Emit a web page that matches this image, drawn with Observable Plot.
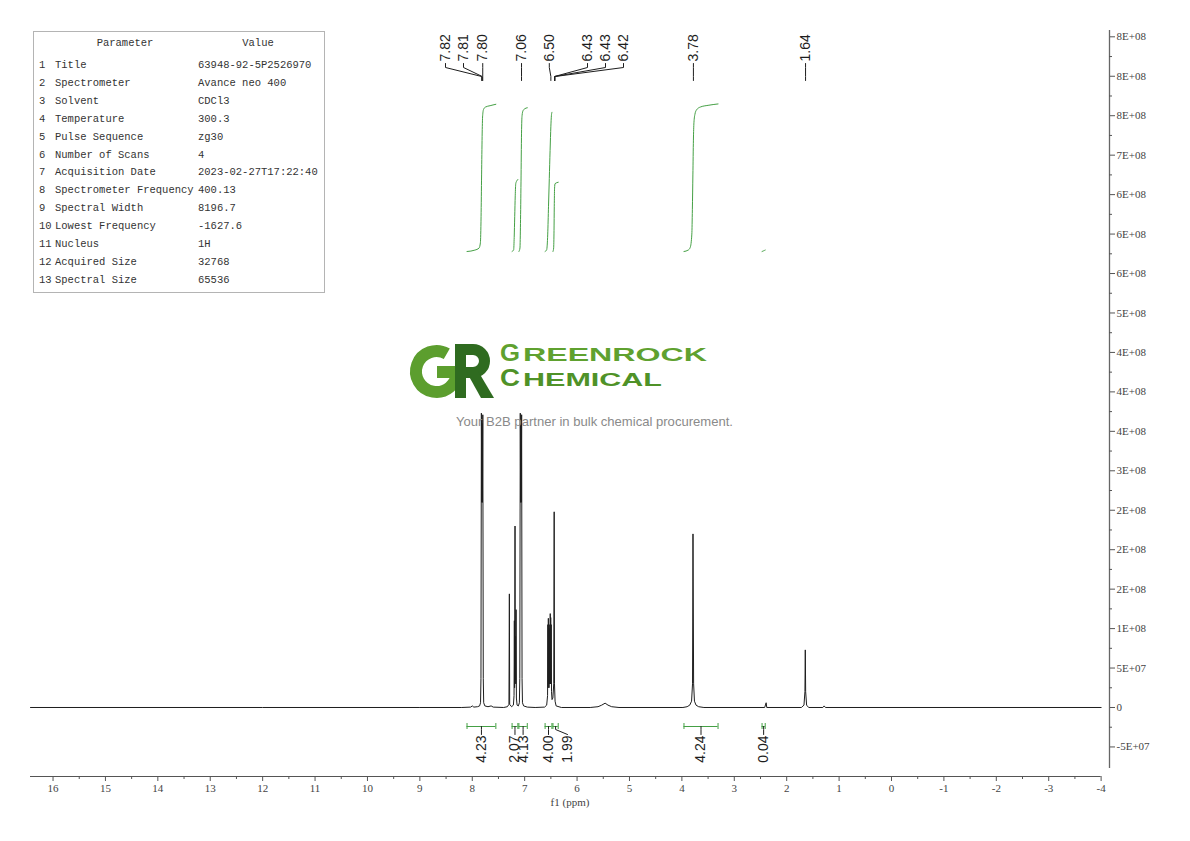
<!DOCTYPE html>
<html><head><meta charset="utf-8">
<script src="https://cdn.jsdelivr.net/npm/d3@7"></script>
<script src="https://cdn.jsdelivr.net/npm/@observablehq/plot@0.6"></script>
<style>
html,body{margin:0;padding:0;background:#fff;overflow:hidden}
#wrap{position:relative;width:1190px;height:841px}
#wrap > svg{position:absolute;left:0;top:0}
.tbl{position:absolute;left:33px;top:31px;width:290px;height:260px;border:1px solid #b4b4b4;background:#fff;font-family:"Liberation Mono",monospace;font-size:10.5px;color:#333}
.tbl span{position:absolute;white-space:pre;line-height:12px}
.logo{position:absolute;left:0;top:0;pointer-events:none}
</style></head><body><div id="wrap"></div>
<script>
// ---------------- data ----------------
const paramNames = ["Title","Spectrometer","Solvent","Temperature","Pulse Sequence","Number of Scans","Acquisition Date","Spectrometer Frequency","Spectral Width","Lowest Frequency","Nucleus","Acquired Size","Spectral Size"];
const paramValues = ["63948-92-5P2526970","Avance neo 400","CDCl3","300.3","zg30","4","2023-02-27T17:22:40","400.13","8196.7","-1627.6","1H","32768","65536"];

// spectrum vertices: [ppm, intensity (x1e8)]
const spectrum = [
 [16.43,0],[12.0,0],[9.0,0],[8.20,0],[8.03,0.005],[8.00,0.02],[7.97,0.005],[7.90,0.01],[7.86,0.02],[7.842,0.06],[7.834,0.37],[7.826,3.73],[7.819,2.6],[7.812,3.6],[7.806,2.6],[7.799,3.71],[7.790,0.37],[7.782,0.06],[7.76,0.02],[7.70,0.01],[7.64,0.02],[7.60,0.005],[7.40,0],
 [7.33,0.01],[7.30,0.04],[7.292,1.44],[7.286,0.04],[7.25,0.01],[7.215,0.03],[7.203,0.15],[7.197,1.10],[7.192,0.25],[7.184,2.30],[7.178,0.35],[7.174,0.9],[7.170,0.3],[7.164,1.24],[7.158,0.12],[7.145,0.03],[7.12,0.02],[7.101,0.06],[7.093,0.37],[7.084,3.73],[7.077,2.6],[7.071,3.6],[7.065,2.6],[7.058,3.71],[7.050,0.37],[7.042,0.06],[7.02,0.02],[6.95,0.005],[6.80,0],
 [6.62,0.005],[6.58,0.03],[6.563,0.15],[6.557,1.05],[6.553,0.25],[6.548,1.13],[6.544,0.3],[6.540,0.95],[6.536,0.25],[6.530,1.0],[6.526,0.3],[6.520,1.05],[6.516,0.3],[6.512,1.19],[6.508,0.3],[6.503,1.14],[6.499,0.3],[6.494,1.05],[6.488,0.2],[6.478,0.1],[6.462,0.12],[6.445,0.3],[6.437,2.48],[6.431,0.3],[6.42,0.08],[6.40,0.02],[6.30,0],
 [5.75,0],[5.60,0.01],[5.53,0.03],[5.465,0.055],[5.41,0.03],[5.34,0.01],[5.20,0],
 [3.98,0],[3.90,0.01],[3.85,0.03],[3.815,0.08],[3.797,0.3],[3.788,2.20],[3.776,0.3],[3.760,0.08],[3.73,0.03],[3.68,0.01],[3.58,0],
 [2.42,0],[2.392,0.06],[2.38,0],
 [1.72,0],[1.67,0.03],[1.652,0.2],[1.645,0.73],[1.638,0.2],[1.62,0.03],[1.58,0],
 [1.31,0],[1.285,0.02],[1.26,0],
 [-4.0,0]
];

// peak picking labels
const peakLabels = ["7.82","7.81","7.80","7.06","6.50","6.43","6.43","6.42","3.78","1.64"];
const peakPpm = [7.82,7.81,7.80,7.06,6.50,6.43,6.43,6.42,3.78,1.64];

// integrals
const intValues = [4.23,2.07,4.13,4.00,1.99,4.24,0.04];
const intFrom = [8.10,7.24,7.11,6.61,6.46,3.96,2.47];
const intTo = [7.55,7.13,6.95,6.48,6.36,3.31,2.41];
const intCurves = [
 [[8.10,0],[7.95,0.04],[7.87,0.1],[7.845,0.25],[7.832,1.0],[7.822,2.2],[7.812,3.3],[7.802,3.9],[7.785,4.08],[7.75,4.15],[7.66,4.19],[7.55,4.23]],
 [[7.24,0],[7.21,0.05],[7.20,0.4],[7.19,1.0],[7.18,1.6],[7.17,1.95],[7.15,2.03],[7.13,2.07]],
 [[7.11,0],[7.09,0.1],[7.08,0.8],[7.07,2.0],[7.06,3.4],[7.05,3.9],[7.03,4.05],[7.00,4.1],[6.95,4.13]],
 [[6.61,0],[6.58,0.05],[6.56,0.5],[6.545,1.3],[6.53,2.1],[6.515,2.9],[6.50,3.6],[6.49,3.9],[6.48,4.00]],
 [[6.46,0],[6.447,0.1],[6.44,0.6],[6.435,1.3],[6.43,1.8],[6.42,1.95],[6.36,1.99]],
 [[3.96,0],[3.88,0.04],[3.84,0.12],[3.81,0.5],[3.80,1.2],[3.79,2.2],[3.78,3.2],[3.77,3.7],[3.75,3.95],[3.72,4.07],[3.65,4.15],[3.50,4.2],[3.31,4.24]],
 [[2.47,0],[2.44,0.02],[2.41,0.04]]
];

// axes
const xTicks = [16,15,14,13,12,11,10,9,8,7,6,5,4,3,2,1,0,-1,-2,-3,-4];
const yTicks = [-5e7,0,5e7,1e8,1.5e8,2e8,2.5e8,3e8,3.5e8,4e8,4.5e8,5e8,5.5e8,6e8,6.5e8,7e8,7.5e8,8e8,8.5e8];
const yTickLabels = ["-5E+07","0","5E+07","1E+08","2E+08","2E+08","2E+08","3E+08","4E+08","4E+08","4E+08","5E+08","6E+08","6E+08","6E+08","7E+08","8E+08","8E+08","8E+08"];

// ---------------- layout ----------------
const W = 1190, H = 841, mL = 30, mR = 81, mT = 30, mB = 65;
const xDomain = [16.43, -4.16];
const yTop = 8.58e8, yBot = -0.8745e8;
const xL = d3.scaleLinear().domain(xDomain).range([mL, W - mR]);
const yL = d3.scaleLinear().domain([yBot, yTop]).range([H - mB, mT]);
const vAt = px => yL.invert(px);
const pAt = px => xL.invert(px);
const pxPpm = 52.4;

const green = "#45a045";
const ink = "#1e1e1e";

const specRows = spectrum.map(([p, v]) => ({p, v: v * 1e8}));

// peak label layout (label anchor positions in ppm)
const peakLabelAt = [pAt(445), pAt(463), 7.80, 7.06, 6.53, pAt(587), pAt(605), pAt(623), 3.78, 1.64];
const peakRows = peakLabels.map((t, i) => ({t, at: peakLabelAt[i], p: peakPpm[i]}));
const leaderRows = [];
peakRows.forEach((r, i) => {
  leaderRows.push({id: i, p: r.at, v: vAt(63)});
  leaderRows.push({id: i, p: r.at, v: vAt(67)});
  leaderRows.push({id: i, p: r.p, v: vAt(76)});
  leaderRows.push({id: i, p: r.p, v: vAt(80)});
});

// integral layout
const intBase = vAt(251);
const intUnit = vAt(251 - 34.8) - intBase;
const intCurveRows = intCurves.flatMap((c, i) => c.map(([p, s]) => ({id: i, p, s})));
const intRows = intValues.map((v, i) => {
  const c = (intFrom[i] + intTo[i]) / 2;
  return {v, from: intFrom[i], to: intTo[i], c, at: i === 4 ? pAt(567) : c};
});
const intLeader = intRows.flatMap((r, i) => [
  {id: i, p: r.c, v: vAt(726)},
  {id: i, p: r.c, v: vAt(729)},
  {id: i, p: r.at, v: vAt(734)}
]);

const yLabelMap = new Map(yTicks.map((t, i) => [t, yTickLabels[i]]));
const xMinor = xTicks.slice(0, -1).map(t => t - 0.5);
const yMinor = yTicks.slice(0, -1).map(t => t + 2.5e7);

const chart = Plot.plot({
  width: W, height: H,
  marginLeft: mL, marginRight: mR, marginTop: mT, marginBottom: mB,
  x: {domain: xDomain},
  y: {domain: [yBot, yTop]},
  style: {fontFamily: "Liberation Serif", fontSize: "11px", background: "transparent", color: "#444"},
  marks: [
    // x axis
    Plot.ruleY([yBot], {x1: 16.43, x2: -4.0, stroke: "#555", strokeWidth: 1.2}),
    Plot.axisX({ticks: xTicks, anchor: "bottom", tickSize: 5, tickPadding: 3, tickFormat: d => String(d), label: null, stroke: "#555", fill: "#444", fontFamily: "Liberation Serif", fontSize: 11}),
    Plot.ruleX(xMinor, {x: d => d, y1: yBot, y2: vAt(779), stroke: "#555"}),
    // y axis (right)
    Plot.ruleX([xDomain[1]], {y1: vAt(768), y2: yTop, stroke: "#666", strokeWidth: 1.3}),
    Plot.axisY({ticks: yTicks, anchor: "right", tickSize: 5, tickPadding: 2, tickFormat: d => yLabelMap.get(d), label: null, stroke: "#555", fill: "#444", fontFamily: "Liberation Serif", fontSize: 11}),
    Plot.ruleY(yMinor, {y: d => d, x1: xDomain[1], x2: xDomain[1] - 3 / pxPpm, stroke: "#555"}),
    Plot.text(["f1 (ppm)"], {frameAnchor: "bottom", dy: 29, text: d => d, fontFamily: "Liberation Serif", fontSize: 11, fill: "#444"}),
    // integral curves
    Plot.line(intCurveRows, {x: "p", y: d => intBase + d.s * intUnit, z: "id", stroke: green, strokeWidth: 1, curve: "monotone-x"}),
    // spectrum
    Plot.line(specRows, {x: "p", y: "v", stroke: ink, strokeWidth: 1}),
    // peak labels
    Plot.line(leaderRows, {x: "p", y: "v", z: "id", stroke: ink, strokeWidth: 1}),
    Plot.text(peakRows, {x: "at", y: vAt(61), text: "t", rotate: -90, textAnchor: "start", lineAnchor: "middle", fontFamily: "Liberation Sans", fontSize: 14, fill: ink}),
    // integral brackets
    Plot.ruleY(intRows, {x1: "from", x2: "to", y: vAt(726), stroke: green, strokeWidth: 1}),
    Plot.ruleX(intRows, {x: "from", y1: vAt(723), y2: vAt(729), stroke: green}),
    Plot.ruleX(intRows, {x: "to", y1: vAt(723), y2: vAt(729), stroke: green}),
    Plot.line(intLeader, {x: "p", y: "v", z: "id", stroke: ink, strokeWidth: 1}),
    Plot.text(intRows, {x: "at", y: vAt(735), text: d => d.v.toFixed(2), rotate: -90, textAnchor: "end", lineAnchor: "middle", fontFamily: "Liberation Sans", fontSize: 14, fill: ink})
  ]
});

const wrap = document.getElementById("wrap");
wrap.appendChild(chart);

// parameter table inset
const tbl = document.createElement("div");
tbl.className = "tbl";
const addSpan = (txt, left, centerY, center) => {
  const s = document.createElement("span");
  s.textContent = txt;
  s.style.left = left + "px";
  s.style.top = (centerY - 32 - 6) + "px";
  if (center) s.style.transform = "translateX(-50%)";
  tbl.appendChild(s);
};
addSpan("Parameter", 91, 43, true);
addSpan("Value", 224, 43, true);
paramNames.forEach((n, i) => {
  const cy = 65 + i * 17.9;
  addSpan(String(i + 1), 5, cy);
  addSpan(n, 21, cy);
  addSpan(paramValues[i], 164, cy);
});
wrap.appendChild(tbl);

// watermark logo
const logo = `
<svg class="logo" width="1190" height="841" xmlns="http://www.w3.org/2000/svg">
  <path d="M 446.8 353.8 A 20.5 20.5 0 1 0 457 371.5" fill="none" stroke="#5c9e2e" stroke-width="12"/>
  <rect x="437" y="366" width="26" height="12" fill="#5c9e2e"/>
  <rect x="455" y="344" width="11" height="54" fill="#2f6b20"/>
  <path d="M 460 349.5 H 473 A 11.5 11.5 0 0 1 473 372.5 H 460" fill="none" stroke="#2f6b20" stroke-width="11"/>
  <polygon points="466,371 478,371 494,398 481,398" fill="#2f6b20"/>
  <text y="361" font-family="Liberation Sans" font-weight="bold" fill="#5fa12f"><tspan x="500" font-size="23" textLength="20" lengthAdjust="spacingAndGlyphs">G</tspan><tspan x="523" font-size="19" textLength="184" lengthAdjust="spacingAndGlyphs">REENROCK</tspan></text>
  <text y="386" font-family="Liberation Sans" font-weight="bold" fill="#4f9228"><tspan x="500" font-size="23" textLength="20" lengthAdjust="spacingAndGlyphs">C</tspan><tspan x="523" font-size="19" textLength="139" lengthAdjust="spacingAndGlyphs">HEMICAL</tspan></text>
  <text x="456" y="426" font-family="Liberation Sans" font-size="13" fill="#8a8a8a" textLength="277" lengthAdjust="spacingAndGlyphs">Your B2B partner in bulk chemical procurement.</text>
</svg>`;
wrap.insertAdjacentHTML("beforeend", logo);
</script></body></html>
